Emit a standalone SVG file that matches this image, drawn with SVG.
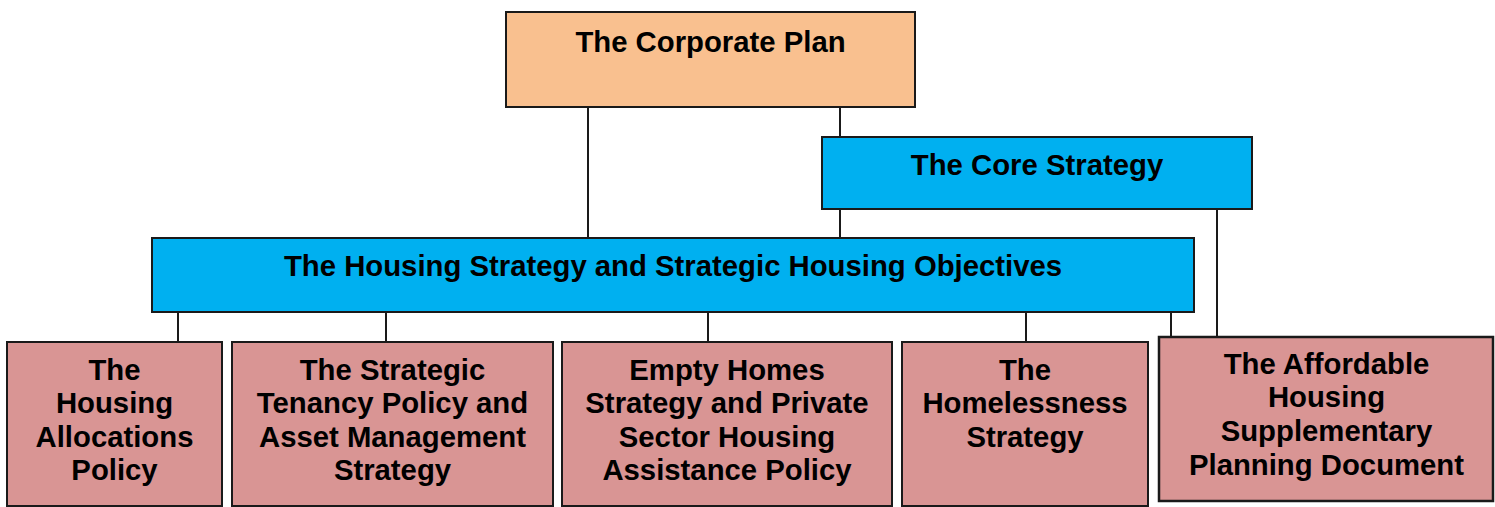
<svg xmlns="http://www.w3.org/2000/svg" width="1495" height="507" viewBox="0 0 1495 507">
<style>
.box{stroke:#1a1a1a;stroke-width:2}
.peach{fill:#F9C08F}
.blue{fill:#00B0F0}
.pink{fill:#D99594}
text{font-family:"Liberation Sans",Arial,sans-serif;font-weight:bold;font-size:29.3px;fill:#000;text-anchor:middle}
.conn line{stroke:#1a1a1a;stroke-width:2}
</style>
<rect width="1495" height="507" fill="#fff"/>
<g id="connectors" class="conn">
<line x1="588" y1="107" x2="588" y2="238"/>
<line x1="840" y1="107" x2="840" y2="137"/>
<line x1="840" y1="209" x2="840" y2="238"/>
<line x1="1217" y1="209" x2="1217" y2="337"/>
<line x1="178" y1="312" x2="178" y2="342"/>
<line x1="386" y1="312" x2="386" y2="342"/>
<line x1="708" y1="312" x2="708" y2="342"/>
<line x1="1026" y1="312" x2="1026" y2="342"/>
<line x1="1171" y1="312" x2="1171" y2="337"/>
</g>
<g id="corporate-plan">
<rect class="box peach" x="506" y="12" width="409" height="95"/>
<text x="710.5" y="52">The Corporate Plan</text>
</g>
<g id="core-strategy">
<rect class="box blue" x="822" y="137" width="430" height="72"/>
<text x="1037" y="175">The Core Strategy</text>
</g>
<g id="housing-strategy">
<rect class="box blue" x="152" y="238" width="1042" height="74"/>
<text x="673" y="276">The Housing Strategy and Strategic Housing Objectives</text>
</g>
<g id="allocations">
<rect class="box pink" x="7" y="342" width="215" height="164"/>
<text x="114.5" y="380">The</text>
<text x="114.5" y="413">Housing</text>
<text x="114.5" y="447">Allocations</text>
<text x="114.5" y="480">Policy</text>
</g>
<g id="tenancy">
<rect class="box pink" x="232" y="342" width="321" height="164"/>
<text x="392.5" y="380">The Strategic</text>
<text x="392.5" y="413">Tenancy Policy and</text>
<text x="392.5" y="447">Asset Management</text>
<text x="392.5" y="480">Strategy</text>
</g>
<g id="empty-homes">
<rect class="box pink" x="562" y="342" width="330" height="164"/>
<text x="727" y="380">Empty Homes</text>
<text x="727" y="413">Strategy and Private</text>
<text x="727" y="447">Sector Housing</text>
<text x="727" y="480">Assistance Policy</text>
</g>
<g id="homelessness">
<rect class="box pink" x="902" y="342" width="246" height="164"/>
<text x="1025" y="380">The</text>
<text x="1025" y="413">Homelessness</text>
<text x="1025" y="447">Strategy</text>
</g>
<g id="affordable">
<rect class="box pink" x="1159" y="337" width="334" height="164" style="stroke-width:2.5"/>
<text x="1326.5" y="374">The Affordable</text>
<text x="1326.5" y="407">Housing</text>
<text x="1326.5" y="441">Supplementary</text>
<text x="1326.5" y="475">Planning Document</text>
</g>
</svg>
